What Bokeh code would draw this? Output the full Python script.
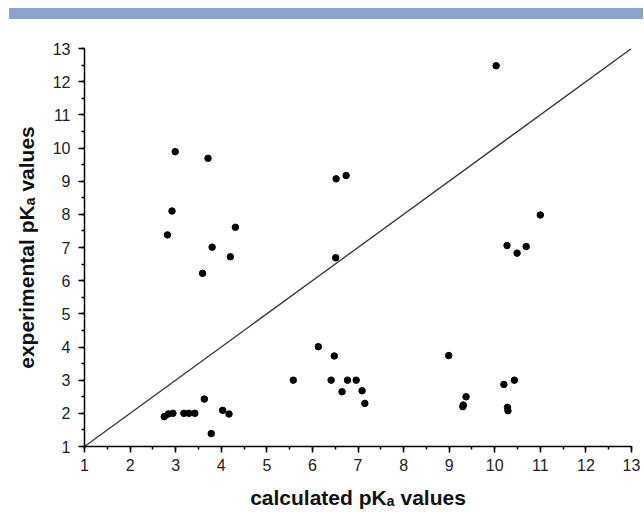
from bokeh.plotting import figure
from bokeh.models import SingleIntervalTicker, Div, Range1d
from bokeh.layouts import column
from bokeh.embed import file_html
from bokeh.resources import INLINE

# calculated pKa (x) vs experimental pKa (y)
calc_pka = [2.99, 3.71, 2.92, 4.31, 2.82, 3.80, 4.20, 3.59,
            2.75, 2.84, 2.94, 3.18, 3.29, 3.42, 3.63, 3.78, 4.03, 4.17,
            6.52, 6.74, 6.51,
            6.13, 6.48, 5.58, 6.41, 6.77, 6.96, 6.65, 7.09, 7.15,
            10.03,
            11.0, 10.27, 10.69, 10.49,
            8.99, 9.37, 9.31, 9.30, 10.20, 10.43, 10.28, 10.29]
exp_pka = [9.89, 9.69, 8.10, 7.61, 7.38, 7.01, 6.72, 6.22,
           1.90, 1.98, 2.00, 2.00, 2.00, 2.00, 2.43, 1.39, 2.09, 1.98,
           9.07, 9.17, 6.69,
           4.01, 3.73, 3.00, 3.00, 3.00, 3.00, 2.65, 2.68, 2.30,
           12.48,
           7.98, 7.06, 7.03, 6.83,
           3.74, 2.50, 2.25, 2.20, 2.87, 3.00, 2.18, 2.08]
diag = [1, 13]
axis_min, axis_max = 1, 13

bar = Div(width=634, height=11, margin=(8, 0, 0, 9),
          styles={"background-color": "#8aa4cc"})

p = figure(width=643, height=492, output_backend="svg", toolbar_location=None,
           x_range=Range1d(axis_min, axis_max), y_range=Range1d(axis_min, axis_max),
           min_border_left=84, min_border_right=12, min_border_top=29,
           min_border_bottom=64, margin=(0, 0, 0, 0))
p.outline_line_color = None
p.grid.visible = False
p.background_fill_color = "white"
p.border_fill_color = "white"

p.line(diag, diag, line_color="#333333", line_width=1.3)
p.scatter(calc_pka, exp_pka, size=6.5, fill_color="black", line_color="black")

for ax in (p.xaxis[0], p.yaxis[0]):
    ax.ticker = SingleIntervalTicker(interval=1, num_minor_ticks=2)
    ax.axis_line_color = "black"
    ax.axis_line_width = 1.5
    ax.major_tick_line_color = "black"
    ax.major_tick_line_width = 1.5
    ax.minor_tick_line_color = "black"
    ax.minor_tick_line_width = 1.5
    ax.major_tick_in = 0
    ax.major_tick_out = 6
    ax.minor_tick_in = 0
    ax.minor_tick_out = 3
    ax.major_label_text_font = "Liberation Sans"
    ax.major_label_text_font_size = "16px"
    ax.major_label_text_color = "#222222"
    ax.axis_label_text_font = "Liberation Sans"
    ax.axis_label_text_font_style = "bold"
    ax.axis_label_text_font_size = "21px"
    ax.axis_label_text_color = "#111111"

p.xaxis[0].axis_label = "calculated pKₐ values"
p.yaxis[0].axis_label = "experimental pKₐ values"
p.xaxis[0].major_label_standoff = 6
p.yaxis[0].major_label_standoff = 8
p.xaxis[0].axis_label_standoff = 12
p.yaxis[0].axis_label_standoff = 12

layout = column(bar, p, spacing=0)
open("out.html", "w").write(file_html(layout, INLINE))
